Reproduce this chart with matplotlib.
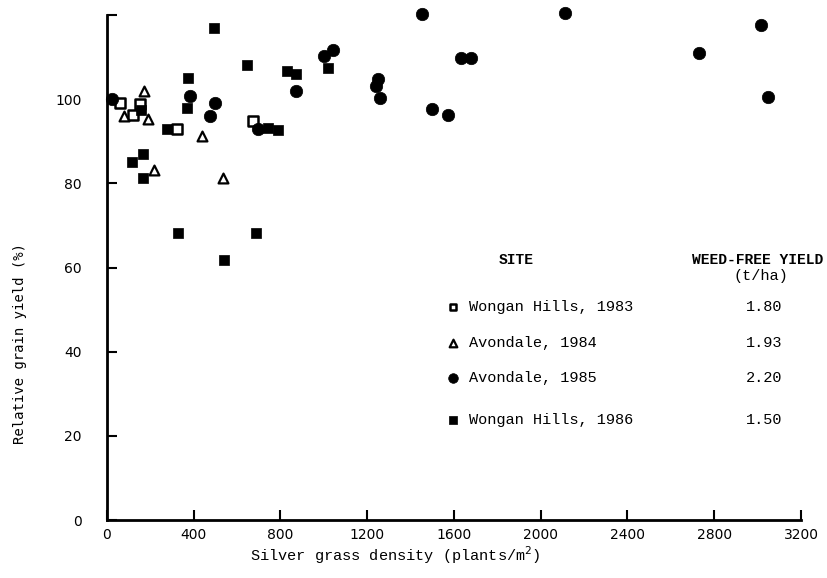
#!/usr/bin/env python3

import matplotlib
matplotlib.use("Agg")
import matplotlib.pyplot as plt

# silver grass density (plants/m2) vs relative grain yield (%)
wh83_x = [60, 152, 121, 321, 675]
wh83_y = [99.0, 98.8, 96.2, 92.8, 94.8]

av84_x = [172, 80, 190, 436, 217, 536]
av84_y = [102.0, 96.0, 95.4, 91.3, 83.1, 81.2]

av85_x = [22, 383, 498, 475, 871, 695, 1002, 1043, 1248, 1240, 1260,
          1451, 1500, 1571, 1632, 1677, 2112, 2729, 3015, 3046]
av85_y = [100.0, 100.8, 99.1, 96.0, 102.0, 93.0, 110.2, 111.6, 104.9, 103.1, 100.3,
          120.3, 97.6, 96.3, 109.8, 109.8, 120.5, 111.0, 117.6, 100.5]

wh86_x = [157, 372, 367, 495, 275, 117, 168, 164, 645, 828, 871, 1017,
          744, 787, 326, 688, 541]
wh86_y = [97.4, 105.1, 97.9, 117.0, 92.8, 85.0, 86.9, 81.2, 108.1, 106.6, 105.9, 107.5,
          93.2, 92.6, 68.2, 68.3, 61.8]

sites = ["Wongan Hills, 1983", "Avondale, 1984", "Avondale, 1985", "Wongan Hills, 1986"]
weed_free = ["1.80", "1.93", "2.20", "1.50"]

xticks = [0, 400, 800, 1200, 1600, 2000, 2400, 2800, 3200]
yticks = [0, 20, 40, 60, 80, 100, 120]
ytick_labels = ["0", "20", "40", "60", "80", "100", ""]

plt.rcParams["font.family"] = ["Liberation Mono", "DejaVu Sans Mono"]

fig = plt.figure(figsize=(8.28, 5.78), dpi=100)
ax = fig.add_axes([0.1292, 0.1003, 0.8382, 0.8737])

styles = [
    dict(marker="s", s=42, facecolors="white", edgecolors="black", linewidths=1.8),
    dict(marker="^", s=50, facecolors="white", edgecolors="black", linewidths=1.6),
    dict(marker="o", s=80, facecolors="black", edgecolors="black", linewidths=0.5),
    dict(marker="s", s=60, facecolors="black", edgecolors="black", linewidths=0.5),
]
series = [(wh83_x, wh83_y), (av84_x, av84_y), (av85_x, av85_y), (wh86_x, wh86_y)]
for (xs, ys), st in zip(series, styles):
    ax.scatter(xs, ys, clip_on=False, zorder=3, **st)

ax.set_xlim(0, 3200)
ax.set_ylim(0, 120)
for side in ["top", "right"]:
    ax.spines[side].set_visible(False)
ax.spines["left"].set_linewidth(2)
ax.spines["bottom"].set_linewidth(2)
ax.set_xticks(xticks, [str(v) for v in xticks], fontfamily="DejaVu Sans", fontsize=10)
ax.set_yticks(yticks, ytick_labels, fontfamily="DejaVu Sans", fontsize=10)
ax.tick_params(axis="both", direction="in", length=7, width=1.5)
ax.tick_params(axis="y", pad=18)
ax.tick_params(axis="x", pad=6)

fig.text(395 / 828, 0.02, "Silver grass density (plants/m$^2$)", ha="center", va="bottom", fontsize=11)
fig.text(20 / 828, 1 - 344 / 578, "Relative grain yield (%)", rotation=90, ha="center", va="center",
         fontsize=10, family="DejaVu Sans Mono")

# key drawn as text table inside the axes
def px(xp, yp):
    return (xp / 828, 1 - yp / 578)

fig.text(*px(516, 260), "SITE", ha="center", va="center", fontsize=10.5, fontweight="bold")
fig.text(*px(758, 260), "WEED-FREE YIELD", ha="center", va="center", fontsize=10.5, fontweight="bold")
fig.text(*px(761, 276), "(t/ha)", ha="center", va="center", fontsize=11)
rows_y = [307, 343, 378, 420]
for i, (name, val) in enumerate(zip(sites, weed_free)):
    st = dict(styles[i])
    st["s"] = st["s"] * 0.6
    fig.text(*px(469, rows_y[i]), name, ha="left", va="center", fontsize=11)
    fig.text(*px(764, rows_y[i]), val, ha="center", va="center", fontsize=11)
    mx, my = px(453, rows_y[i])
    ax.scatter([mx], [my], transform=fig.transFigure, clip_on=False, zorder=3, **st)

fig.savefig("out.png", dpi=100)
